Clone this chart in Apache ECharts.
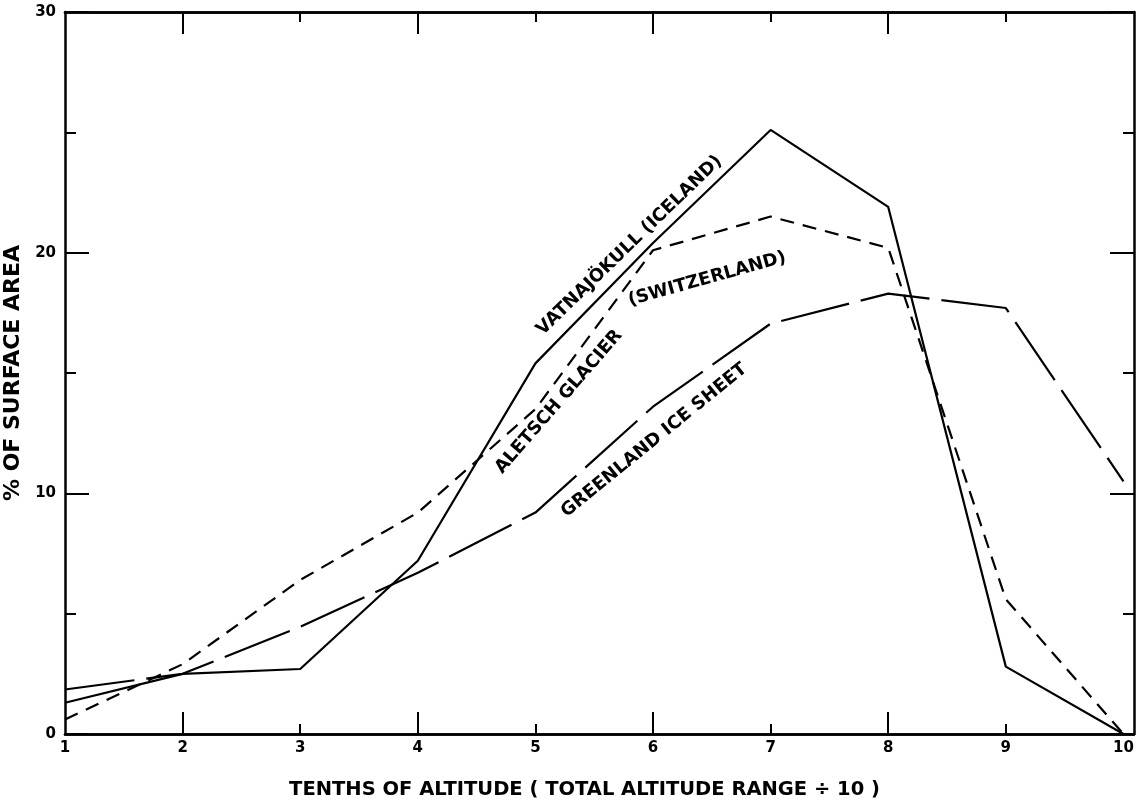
<!DOCTYPE html>
<html>
<head>
<meta charset="utf-8">
<script src="https://cdn.jsdelivr.net/npm/echarts@6/dist/echarts.min.js"></script>
<style>
  html, body { margin: 0; padding: 0; background: #fff; }
  #chart { width: 1148px; height: 804px; }
</style>
</head>
<body>
<div id="chart"></div>
<script>
// tenths of altitude
var tenths = [1, 2, 3, 4, 5, 6, 7, 8, 9, 10];
// % of surface area
var vatnajokull = [1.3, 2.5, 2.7, 7.2, 15.4, 20.4, 25.1, 21.9, 2.8, 0];
var aletsch = [0.6, 2.9, 6.4, 9.2, 13.5, 20.1, 21.5, 20.2, 5.6, 0];
var greenland = [1.85, 2.5, 4.45, 6.7, 9.2, 13.6, 17.05, 18.3, 17.7, 10.5];

var xLabels = [1, 2, 3, 4, 5, 6, 7, 8, 9, 10];
var longTicks = [2, 4, 6, 8];
var shortTicks = [3, 5, 7, 9];

function pairs(ys) {
    return tenths.map(function (x, i) { return [x, ys[i]]; });
}

var ink = '#000';
var font = '"DejaVu Sans", sans-serif';

var myChart = echarts.init(document.getElementById('chart'));

function xAxisDef(pos, ticks, len, withLabels) {
    return {
        type: 'value',
        position: pos,
        min: 1,
        max: 10.09,
        axisLine: { show: true, onZero: false, lineStyle: { color: ink, width: 2.5 } },
        axisTick: { show: true, inside: true, length: len, customValues: ticks, lineStyle: { color: ink, width: 2 } },
        axisLabel: withLabels ? {
            show: true, customValues: xLabels, margin: 7,
            color: ink, fontFamily: font, fontWeight: 'bold', fontSize: 15
        } : { show: false },
        splitLine: { show: false }
    };
}

function yAxisDef(pos, withLabels) {
    return {
        type: 'value',
        position: pos,
        min: 0,
        max: 30,
        interval: 10,
        axisLine: { show: true, lineStyle: { color: ink, width: 2.5 } },
        axisTick: { show: true, inside: true, length: 24, lineStyle: { color: ink, width: 2 } },
        minorTick: { show: true, splitNumber: 2, length: 11, lineStyle: { color: ink, width: 2 } },
        axisLabel: withLabels ? {
            show: true, margin: 9,
            color: ink, fontFamily: font, fontWeight: 'bold', fontSize: 15
        } : { show: false },
        splitLine: { show: false },
        minorSplitLine: { show: false }
    };
}

var bottomX = xAxisDef('bottom', longTicks, 22, true);
bottomX.name = 'TENTHS OF ALTITUDE ( TOTAL ALTITUDE RANGE ÷ 10 )';
bottomX.nameLocation = 'middle';
bottomX.nameGap = 46;
bottomX.nameTextStyle = { color: ink, fontFamily: font, fontWeight: 'bold', fontSize: 19.5, padding: [0, 30, 0, 0] };

var leftY = yAxisDef('left', true);
leftY.name = '% OF SURFACE AREA';
leftY.nameLocation = 'middle';
leftY.nameGap = 30;
leftY.nameTextStyle = { color: ink, fontFamily: font, fontWeight: 'bold', fontSize: 22 };

var annotations = [
    { name: 'VATNAJÖKULL (ICELAND)', value: [5.80, 20.3], angle: 44 },
    { name: 'ALETSCH GLACIER', value: [5.20, 13.8], angle: 49 },
    { name: '(SWITZERLAND)', value: [6.46, 18.9], angle: 15.5 },
    { name: 'GREENLAND ICE SHEET', value: [6.01, 12.2], angle: 39 }
];

var option = {
    backgroundColor: '#fff',
    animation: false,
    grid: { left: 65, right: 14, top: 12, bottom: 70, containLabel: false, outerBoundsMode: 'none' },
    xAxis: [
        bottomX,
        xAxisDef('bottom', shortTicks, 10, false),
        xAxisDef('top', longTicks, 22, false),
        xAxisDef('top', shortTicks, 10, false)
    ],
    yAxis: [leftY, yAxisDef('right', false)],
    series: [
        {
            name: 'Vatnajökull', type: 'line', data: pairs(vatnajokull),
            symbol: 'none', lineStyle: { color: ink, width: 2.2 }
        },
        {
            name: 'Aletsch Glacier', type: 'line', data: pairs(aletsch),
            symbol: 'none', lineStyle: { color: ink, width: 2.2, type: [14, 9] }
        },
        {
            name: 'Greenland Ice Sheet', type: 'line', data: pairs(greenland),
            symbol: 'none', lineStyle: { color: ink, width: 2.2, type: [70, 12] }
        },
        {
            type: 'scatter', symbolSize: 0, silent: true,
            itemStyle: { opacity: 1 },
            data: annotations.map(function (a) {
                return {
                    name: a.name, value: a.value,
                    label: { rotate: a.angle }
                };
            }),
            label: {
                show: true, position: 'inside', formatter: '{b}',
                color: ink, fontFamily: font, fontWeight: 'bold', fontSize: 18
            }
        }
    ]
};
myChart.setOption(option);
window.addEventListener('resize', function () {
    myChart.resize();
});
</script>
</body>
</html>
